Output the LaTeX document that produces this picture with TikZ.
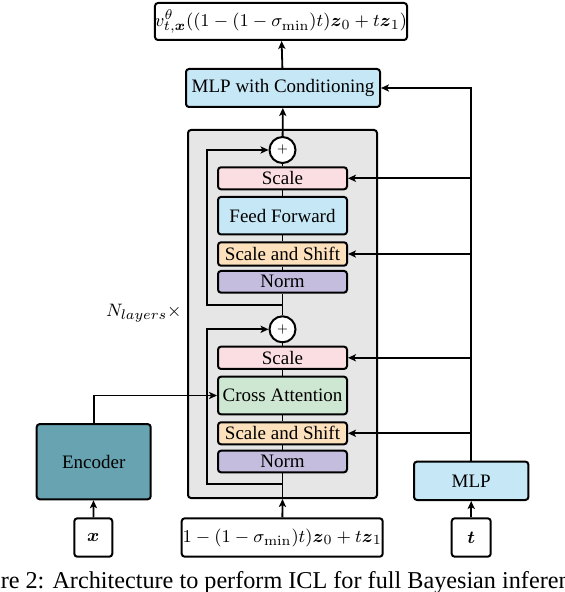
\documentclass[tikz,border=0pt]{standalone}
\usepackage{amsmath}
\usepackage[no-math]{fontspec}
\setmainfont{Liberation Serif}
\usepackage{tikz}
\usetikzlibrary{arrows.meta}
\usetikzlibrary{positioning}

\definecolor{lightblue}{RGB}{198,231,246}
\definecolor{scalepink}{RGB}{251,222,225}
\definecolor{shiftorange}{RGB}{253,224,188}
\definecolor{normpurple}{RGB}{196,189,222}
\definecolor{attngreen}{RGB}{206,231,210}
\definecolor{encteal}{RGB}{104,163,177}
\definecolor{blockgray}{RGB}{230,230,230}

\begin{document}
\begin{tikzpicture}[x=0.5pt,y=-0.5pt]
        \tikzstyle{blk}=[draw,rounded corners=1.5pt,line width=1pt,inner sep=0pt,font=\fontsize{9.5}{11}\selectfont]
        \tikzstyle{inner}=[blk,minimum width=64.5pt]
        \tikzstyle{plus}=[circle,draw,fill=white,line width=1pt,minimum size=13pt,inner sep=0pt,font=\fontsize{6}{6}\selectfont]
        \tikzstyle{arr}=[line width=0.9pt,-{Stealth[length=4pt,width=3.6pt,inset=1pt]}]
        \tikzstyle{wire}=[line width=0.9pt]
        \useasboundingbox (0,0) rectangle (564,592);
        \node[blk,fill=blockgray,minimum width=94.5pt,minimum height=184pt] (block) at (282.5,314) {};
        \node[blk,fill=white,minimum width=122.5pt,minimum height=18.5pt] (out) at (281,21.5) {$v^{\theta}_{t,\boldsymbol{x}}((1-(1-\sigma_{\min})t)\boldsymbol{z}_0+t\boldsymbol{z}_1)$};
        \node[blk,fill=lightblue,minimum width=97pt,minimum height=19pt] (cond) at (283,88) {MLP with Conditioning};
        \node[plus] (plusA) at (282.5,150) {$+$};
        \node[inner,fill=scalepink,minimum height=11pt] (scaleA) at (282.5,178.3) {Scale};
        \node[inner,fill=lightblue,minimum height=18.75pt] (ffA) at (282.5,215.7) {Feed Forward};
        \node[inner,fill=shiftorange,minimum height=11.7pt] (ssA) at (282.5,254) {Scale and Shift};
        \node[inner,fill=normpurple,minimum height=10.85pt] (normA) at (282.5,281.8) {Norm};
        \node[plus] (plusB) at (282.5,329.3) {$+$};
        \node[inner,fill=scalepink,minimum height=11.15pt] (scaleB) at (282.5,357.8) {Scale};
        \node[inner,fill=attngreen,minimum height=18.8pt] (caB) at (282.5,395.5) {Cross Attention};
        \node[inner,fill=shiftorange,minimum height=11pt] (ssB) at (282.5,433.3) {Scale and Shift};
        \node[inner,fill=normpurple,minimum height=10.8pt] (normB) at (282.5,461.5) {Norm};
        \node[blk,fill=encteal,minimum width=57pt,minimum height=37.6pt] (enc) at (93.7,461.7) {Encoder};
        \node[blk,fill=white,minimum width=19pt,minimum height=19.2pt] (xin) at (93.3,537.5) {$\boldsymbol{x}$};
        \node[blk,fill=white,minimum width=100.5pt,minimum height=19.2pt] (zin) at (282.2,537.5) {$1-(1-\sigma_{\min})t)\boldsymbol{z}_0+t\boldsymbol{z}_1$};
        \node[blk,fill=lightblue,minimum width=57.2pt,minimum height=19.2pt] (mlp) at (471.2,480.8) {MLP};
        \node[blk,fill=white,minimum width=19.5pt,minimum height=19.2pt] (tin) at (471.2,537.5) {$\boldsymbol{t}$};
        \node[anchor=east,inner sep=0pt,font=\fontsize{9.5}{11}\selectfont] (nlayers) at (182,313) {$N_{layers}\times$};
        \node[anchor=base west,inner sep=0pt,font=\fontsize{12.1}{14}\selectfont] (caption) at (-44,588) {Figure 2: Architecture to perform ICL for full Bayesian inference};
        \coordinate (splitA) at (282.5,305);
        \coordinate (splitB) at (282.5,484);
        \draw[arr] (splitA) -- ++(-75.2,0) |- (plusA.west);
        \draw[arr] (splitB) -- ++(-75.2,0) |- (plusB.west);
        \draw[arr] (zin) -- (block.south);
        \draw[wire] (block.south) -- (normB);
        \draw[wire] (normB) -- (ssB);
        \draw[wire] (ssB) -- (caB);
        \draw[wire] (caB) -- (scaleB);
        \draw[wire] (scaleB) -- (plusB);
        \draw[wire] (plusB) -- (normA);
        \draw[wire] (normA) -- (ssA);
        \draw[wire] (ssA) -- (ffA);
        \draw[wire] (ffA) -- (scaleA);
        \draw[wire] (scaleA) -- (plusA);
        \draw[arr] (plusA) -- (cond);
        \draw[arr] (cond) -- (out);
        \draw[arr] (xin) -- (enc);
        \draw[arr] (enc.north) |- (caB.west);
        \draw[arr] (tin) -- (mlp);
        \draw[arr] (mlp.north) |- (cond.east);
        \draw[arr] (mlp.north) |- (scaleA.east);
        \draw[arr] (mlp.north) |- (ssA.east);
        \draw[arr] (mlp.north) |- (scaleB.east);
        \draw[arr] (mlp.north) |- (ssB.east);
\end{tikzpicture}
\end{document}
